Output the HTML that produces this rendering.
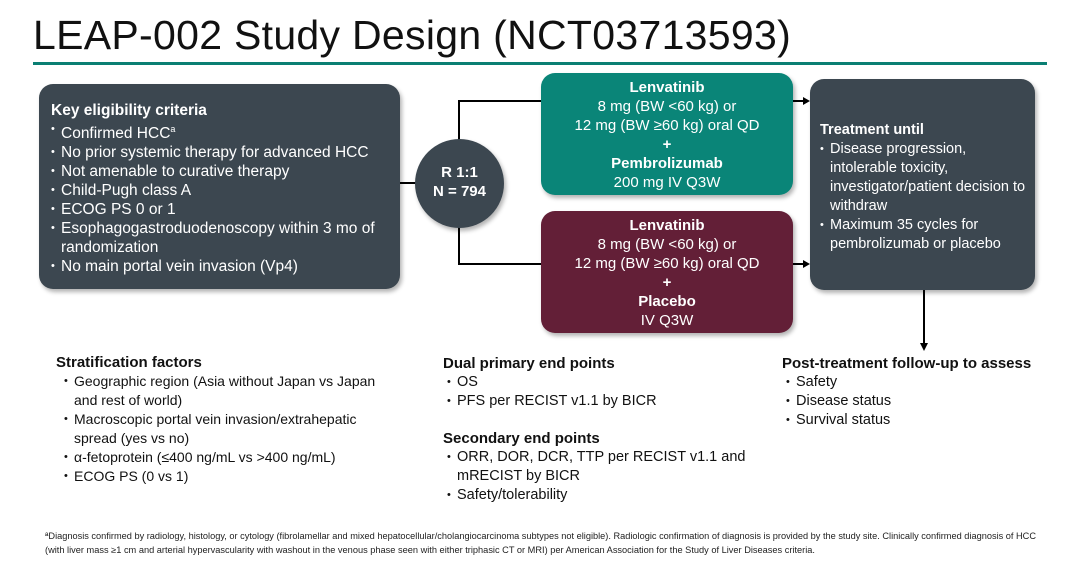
<!DOCTYPE html>
<html><head><meta charset="utf-8"><style>
body{margin:0;width:1080px;height:563px;background:#fff;position:relative;overflow:hidden;font-family:"Liberation Sans",Arial,sans-serif;}
.a{position:absolute;}
.box{position:absolute;border-radius:14px;color:#fff;box-shadow:2px 3px 4px rgba(0,0,0,0.3);}
.t{font-size:14.5px;line-height:19px;}
.b{font-weight:bold;}
ul{margin:0;padding:0;list-style:none;}
li{position:relative;padding-left:10px;}
li:before{content:"•";position:absolute;left:0;font-size:11px;}
.c{text-align:center;font-size:15px;line-height:19px;}
.d{color:#111;font-size:14.5px;line-height:19px;}
.h{font-size:15px;}
</style></head><body>
<div class="a" style="left:33px;top:12px;font-size:41px;color:#111;letter-spacing:0.3px">LEAP-002 Study Design (NCT03713593)</div>
<div class="a" style="left:33px;top:62px;width:1014px;height:3px;background:#0a7f73"></div>

<svg class="a" style="left:0;top:0" width="1080" height="563">
<polyline points="400,183 420,183" stroke="#000" stroke-width="2" fill="none"/>
<polyline points="459,140 459,101 541,101" stroke="#000" stroke-width="2" fill="none"/>
<polyline points="459,226 459,264 541,264" stroke="#000" stroke-width="2" fill="none"/>
<line x1="793" y1="101" x2="804" y2="101" stroke="#000" stroke-width="2"/>
<polygon points="803,97 810,101 803,105" fill="#000"/>
<line x1="793" y1="264" x2="804" y2="264" stroke="#000" stroke-width="2"/>
<polygon points="803,260 810,264 803,268" fill="#000"/>
<line x1="924" y1="290" x2="924" y2="344" stroke="#000" stroke-width="2"/>
<polygon points="920,343 924,351 928,343" fill="#000"/>
<text x="45" y="539" font-size="9" fill="#222" textLength="991" lengthAdjust="spacingAndGlyphs" font-family="Liberation Sans">ªDiagnosis confirmed by radiology, histology, or cytology (fibrolamellar and mixed hepatocellular/cholangiocarcinoma subtypes not eligible). Radiologic confirmation of diagnosis is provided by the study site. Clinically confirmed diagnosis of HCC</text>
<text x="45" y="553" font-size="9" fill="#222" textLength="770" lengthAdjust="spacingAndGlyphs" font-family="Liberation Sans">(with liver mass ≥1 cm and arterial hypervascularity with washout in the venous phase seen with either triphasic CT or MRI) per American Association for the Study of Liver Diseases criteria.</text>
</svg>

<div class="box" style="left:39px;top:84px;width:361px;height:205px;background:#3c4750;box-sizing:border-box;padding:17px 0 0 12px;font-size:15.5px;line-height:19px">
<div class="b">Key eligibility criteria</div>
<ul><li>Confirmed HCC<sup style="font-size:9px">a</sup></li><li>No prior systemic therapy for advanced HCC</li><li>Not amenable to curative therapy</li><li>Child-Pugh class A</li><li>ECOG PS 0 or 1</li><li>Esophagogastroduodenoscopy within 3 mo of randomization</li><li>No main portal vein invasion (Vp4)</li></ul>
</div>

<div class="a c b" style="left:415px;top:139px;width:89px;height:89px;border-radius:50%;background:#3c4750;color:#fff;box-sizing:border-box;padding-top:24px;box-shadow:2px 3px 4px rgba(0,0,0,0.3)">R 1:1<br>N = 794</div>

<div class="box c" style="left:541px;top:73px;width:252px;height:122px;background:#0a8578;padding-top:5px;box-sizing:border-box">
<div class="b">Lenvatinib</div>8 mg (BW &lt;60 kg) or<br>12 mg (BW ≥60 kg) oral QD<div class="b">+</div><div class="b">Pembrolizumab</div>200 mg IV Q3W</div>

<div class="box c" style="left:541px;top:211px;width:252px;height:122px;background:#631f37;padding-top:5px;box-sizing:border-box">
<div class="b">Lenvatinib</div>8 mg (BW &lt;60 kg) or<br>12 mg (BW ≥60 kg) oral QD<div class="b">+</div><div class="b">Placebo</div>IV Q3W</div>

<div class="box t" style="left:810px;top:79px;width:225px;height:211px;background:#3c4750;box-sizing:border-box;padding:42px 4px 0 10px">
<div class="b">Treatment until</div>
<ul><li>Disease progression, intolerable toxicity, investigator/patient decision to withdraw</li><li>Maximum 35 cycles for pembrolizumab or placebo</li></ul></div>

<div class="a d" style="left:56px;top:353px;width:340px">
<div class="b h">Stratification factors</div>
<ul style="margin-left:8px;font-size:14px"><li>Geographic region (Asia without Japan vs Japan and rest of world)</li><li>Macroscopic portal vein invasion/extrahepatic spread (yes vs no)</li><li>α-fetoprotein (≤400 ng/mL vs &gt;400 ng/mL)</li><li>ECOG PS (0 vs 1)</li></ul></div>

<div class="a d" style="left:443px;top:354px;width:330px">
<div class="b h">Dual primary end points</div>
<ul style="margin-left:4px"><li>OS</li><li>PFS per RECIST v1.1 by BICR</li></ul>
<div class="b h" style="margin-top:18px">Secondary end points</div>
<ul style="margin-left:4px"><li>ORR, DOR, DCR, TTP per RECIST v1.1 and mRECIST by BICR</li><li>Safety/tolerability</li></ul></div>

<div class="a d" style="left:782px;top:354px;width:295px">
<div class="b h">Post-treatment follow-up to assess</div>
<ul style="margin-left:4px"><li>Safety</li><li>Disease status</li><li>Survival status</li></ul></div>
</body></html>
